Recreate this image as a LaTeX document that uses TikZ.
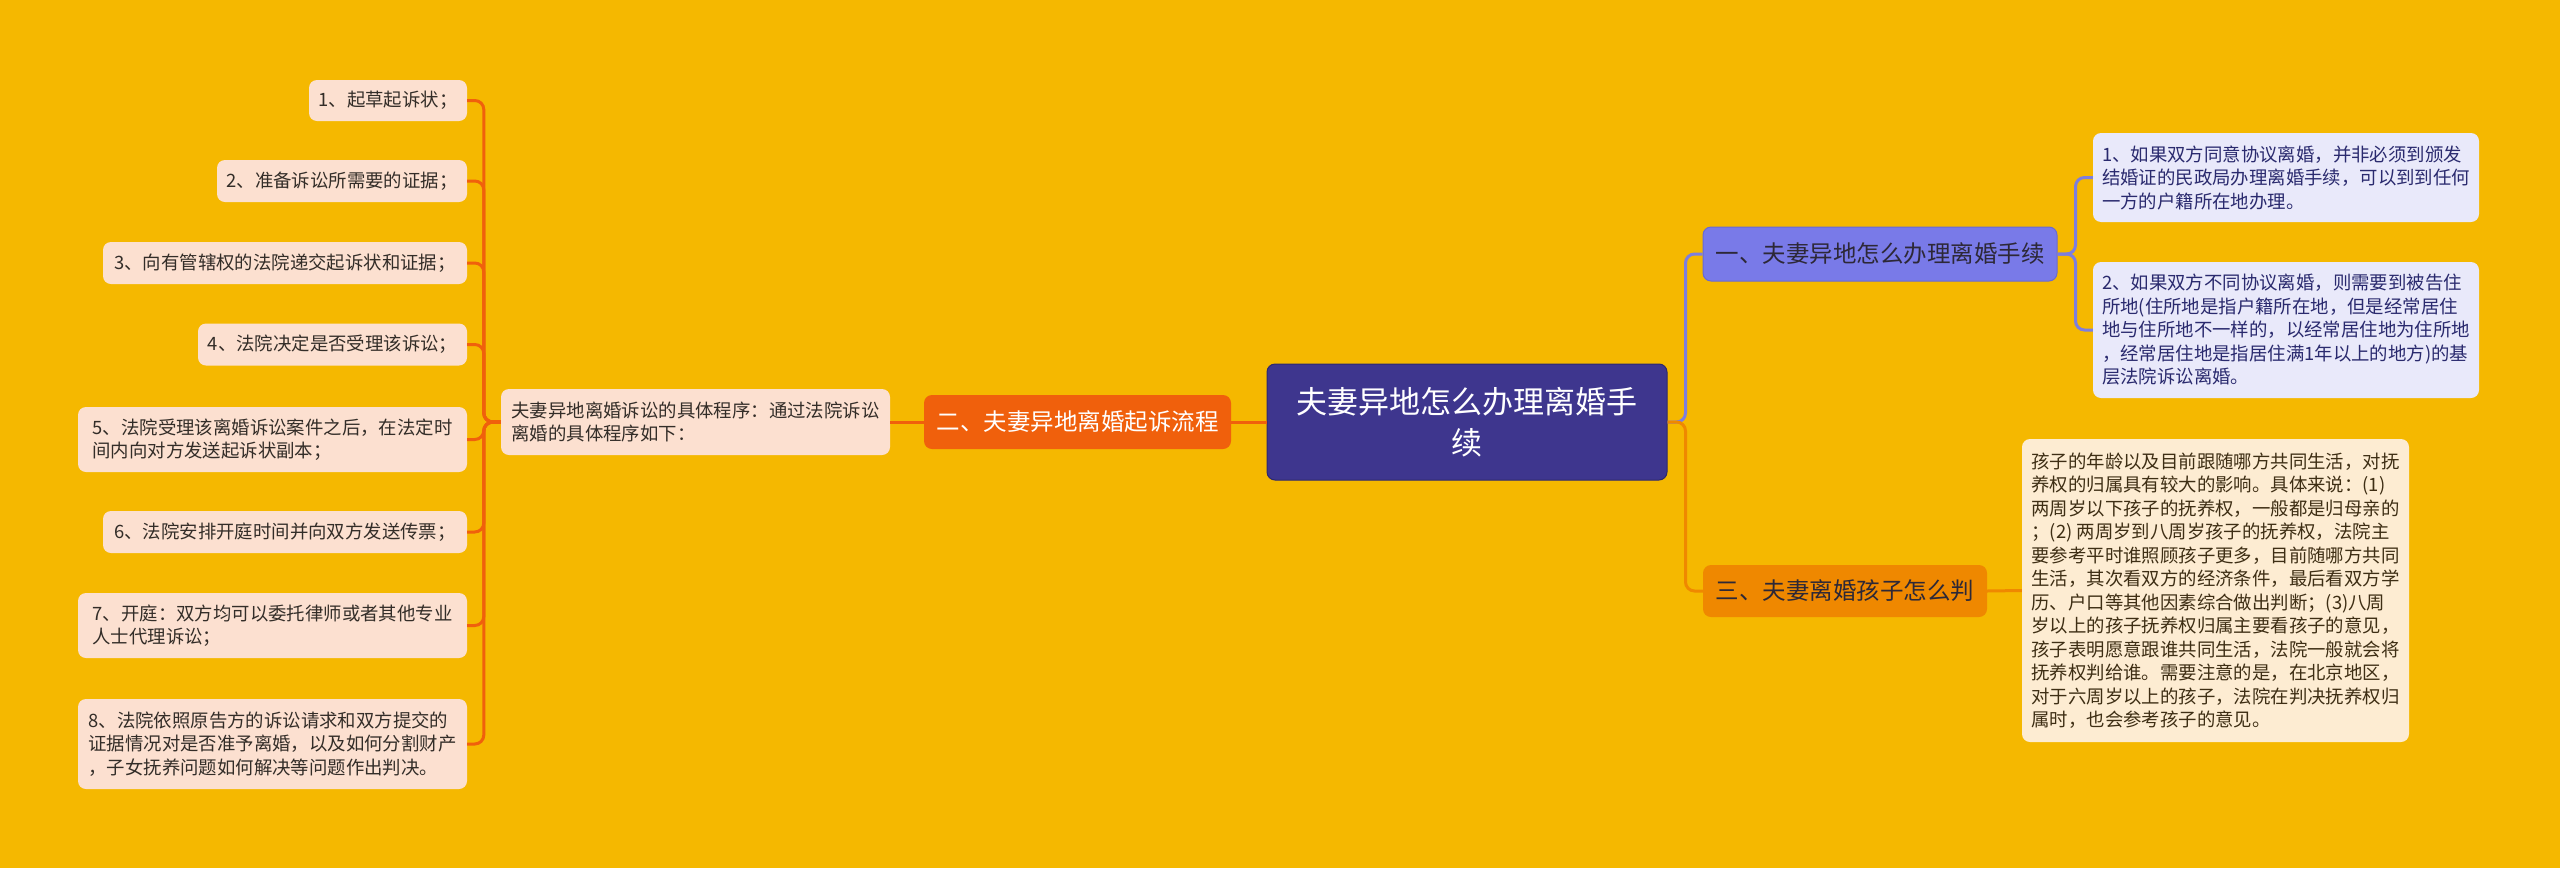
\documentclass[tikz,border=0pt]{standalone}
\usepackage{fontspec}
\setmainfont{Noto Sans CJK SC}
\definecolor{bg}{RGB}{245,184,0}
\definecolor{leafc}{RGB}{252,224,208}
\definecolor{leaftext}{RGB}{51,45,40}
\definecolor{redor}{RGB}{240,96,12}
\definecolor{centc}{RGB}{62,54,142}
\definecolor{centb}{RGB}{45,40,110}
\definecolor{peri}{RGB}{121,122,232}
\definecolor{perib}{RGB}{105,106,210}
\definecolor{periline}{RGB}{125,126,222}
\definecolor{lav}{RGB}{233,233,250}
\definecolor{lavtext}{RGB}{42,42,110}
\definecolor{orng}{RGB}{239,136,0}
\definecolor{cream}{RGB}{253,236,210}
\definecolor{creamtext}{RGB}{62,46,20}
\definecolor{darktext}{RGB}{45,40,55}
\tikzset{
  smallfont/.style={font=\fontsize{18.4pt}{23.5pt}\selectfont},
  leaf/.style={smallfont, fill=leafc, text=leaftext, rounded corners=8pt, align=left, inner xsep=6pt, inner ysep=4pt},
  lav/.style={smallfont, fill=lav, text=lavtext, rounded corners=8pt, align=left, inner xsep=6pt, inner ysep=4pt},
  creambox/.style={smallfont, fill=cream, text=creamtext, rounded corners=8pt, align=left, inner xsep=6pt, inner ysep=4pt},
  midfont/.style={font=\fontsize{23.5pt}{29pt}\selectfont},
  lline/.style={draw=redor, line width=3pt, rounded corners=9pt},
  pline/.style={draw=periline, line width=3pt, rounded corners=9pt},
  oline/.style={draw=orng, line width=3pt, rounded corners=9pt},
}
\begin{document}
\begin{tikzpicture}[x=1pt,y=-1pt]
\useasboundingbox[fill=bg] (0,0) rectangle (2560,868);

% left leaves
\node[leaf, minimum width=158pt, minimum height=41pt] (l1) at (388,100.5) {1、起草起诉状；};
\node[leaf, minimum width=250pt, minimum height=42pt] (l2) at (342,181) {2、准备诉讼所需要的证据；};
\node[leaf, minimum width=364pt, minimum height=42pt] (l3) at (285,263) {3、向有管辖权的法院递交起诉状和证据；};
\node[leaf, minimum width=269pt, minimum height=42pt] (l4) at (332.5,344.5) {4、法院决定是否受理该诉讼；};
\node[leaf, minimum width=389pt, minimum height=65pt] (l5) at (272.5,439.5) {5、法院受理该离婚诉讼案件之后，在法定时\\间内向对方发送起诉状副本；};
\node[leaf, minimum width=364pt, minimum height=42pt] (l6) at (285,532) {6、法院安排开庭时间并向双方发送传票；};
\node[leaf, minimum width=389pt, minimum height=65pt] (l7) at (272.5,625.5) {7、开庭：双方均可以委托律师或者其他专业\\人士代理诉讼；};
\node[leaf, minimum width=389pt, minimum height=90pt] (l8) at (272.5,744) {8、法院依照原告方的诉讼请求和双方提交的\\证据情况对是否准予离婚，以及如何分割财产\\，子女抚养问题如何解决等问题作出判决。};

% intro
\node[leaf, minimum width=389pt, minimum height=66pt] (intro) at (695.5,422) {夫妻异地离婚诉讼的具体程序：通过法院诉讼\\离婚的具体程序如下：};

% branch 2
\node[midfont, fill=redor, text=white, rounded corners=8pt, minimum width=307pt, minimum height=54pt, inner sep=4pt] (n2) at (1077.5,422) {二、夫妻异地离婚起诉流程};

% central
\node[font=\fontsize{31pt}{41pt}\selectfont, fill=centc, draw=centb, line width=1pt, text=white, rounded corners=8pt, align=center, minimum width=400pt, minimum height=116pt, inner sep=4pt] (c) at (1467,422) {夫妻异地怎么办理离婚手\\续};

% branch 1
\node[midfont, fill=peri, draw=perib, line width=1pt, text=darktext, rounded corners=8pt, minimum width=354pt, minimum height=54pt, inner sep=4pt] (n1) at (1880,254) {一、夫妻异地怎么办理离婚手续};
\node[lav, minimum width=386pt, minimum height=89pt] (r1) at (2286,177.5) {1、如果双方同意协议离婚，并非必须到颁发\\结婚证的民政局办理离婚手续，可以到到任何\\一方的户籍所在地办理。};
\node[lav, minimum width=386pt, minimum height=136pt] (r2) at (2286,330) {2、如果双方不同协议离婚，则需要到被告住\\所地(住所地是指户籍所在地，但是经常居住\\地与住所地不一样的，以经常居住地为住所地\\，经常居住地是指居住满1年以上的地方)的基\\层法院诉讼离婚。};

% branch 3
\node[midfont, fill=orng, text=darktext, rounded corners=8pt, minimum width=284pt, minimum height=52pt, inner sep=4pt] (n3) at (1845,591) {三、夫妻离婚孩子怎么判};
\node[creambox, minimum width=387pt, minimum height=303pt] (r3) at (2215.5,590.5) {孩子的年龄以及目前跟随哪方共同生活，对抚\\养权的归属具有较大的影响。具体来说：(1)\\两周岁以下孩子的抚养权，一般都是归母亲的\\；(2) 两周岁到八周岁孩子的抚养权，法院主\\要参考平时谁照顾孩子更多，目前随哪方共同\\生活，其次看双方的经济条件，最后看双方学\\历、户口等其他因素综合做出判断；(3)八周\\岁以上的孩子抚养权归属主要看孩子的意见，\\孩子表明愿意跟谁共同生活，法院一般就会将\\抚养权判给谁。需要注意的是，在北京地区，\\对于六周岁以上的孩子，法院在判决抚养权归\\属时，也会参考孩子的意见。};

% connectors left
\foreach \n in {l1,l2,l3,l4,l5,l6,l7,l8}{
  \draw[lline] (intro.west) -- ++(-17,0) |- (\n.east);
}
\draw[draw=redor, line width=3pt] (intro.east) -- (n2.west);
\draw[draw=redor, line width=3pt] (n2.east) -- (c.west);

% connectors right
\draw[pline] (c.east) -- ++(18,0) |- (n1.west);
\draw[oline] (c.east) -- ++(18,0) |- (n3.west);
\draw[pline] (n1.east) -- ++(18,0) |- (r1.west);
\draw[pline] (n1.east) -- ++(18,0) |- (r2.west);
\draw[draw=orng, line width=3pt] (n3.east) -- (r3.west);
\end{tikzpicture}
\end{document}
